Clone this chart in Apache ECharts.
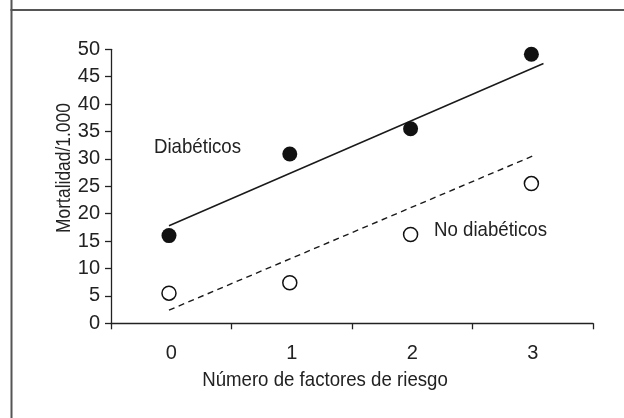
<!DOCTYPE html>
<html>
<head>
<meta charset="utf-8">
<script src="https://cdn.jsdelivr.net/npm/echarts@6/dist/echarts.min.js"></script>
<style>
html,body{margin:0;padding:0;background:#fff;}
#c{width:624px;height:418px;}
</style>
</head>
<body>
<div id="c"></div>
<script>
var categories = ['0', '1', '2', '3'];
var xPositions = [0, 1, 2, 3];
var diabeticos = [16.0, 30.9, 35.5, 49.1];
var noDiabeticos = [5.5, 7.4, 16.2, 25.5];
var diabTrendX = [0, 3.10];
var diabTrendY = [17.8, 47.4];
var noDiabTrendX = [0, 3.04];
var noDiabTrendY = [2.4, 30.8];
var yTicks = [0, 5, 10, 15, 20, 25, 30, 35, 40, 45, 50];

var FONT = '"Liberation Sans", Arial, sans-serif';
var TXT = '#222';

function pairs(xs, ys) { return xs.map(function (x, i) { return [x, ys[i]]; }); }

var chart = echarts.init(document.getElementById('c'), null, { renderer: 'canvas' });
chart.setOption({
  backgroundColor: '#fff',
  animation: false,
  grid: { left: 111, right: 31, top: 49.3, bottom: 94.7, containLabel: false },
  xAxis: [
    {
      type: 'category',
      data: categories,
      boundaryGap: true,
      axisLine: { show: true, onZero: false, lineStyle: { color: TXT, width: 1.3 } },
      axisTick: { show: true, length: 6, inside: false, lineStyle: { color: TXT, width: 1.3 } },
      axisLabel: { color: TXT, fontFamily: FONT, fontSize: 20, margin: 20 },
      splitLine: { show: false }
    },
    {
      type: 'value',
      min: -0.48,
      max: 3.51,
      show: false,
      position: 'bottom'
    }
  ],
  yAxis: {
    type: 'value',
    min: 0,
    max: 50,
    interval: 5,
    axisLine: { show: true, onZero: false, lineStyle: { color: TXT, width: 1.3 } },
    axisTick: { show: true, length: 6, lineStyle: { color: TXT, width: 1.3 } },
    axisLabel: {
      color: TXT, fontFamily: FONT, fontSize: 20, margin: 11,
      formatter: function (v) { return yTicks.indexOf(v) >= 0 ? String(v) : ''; }
    },
    splitLine: { show: false }
  },
  graphic: [
    { type: 'line', shape: { x1: 11.5, y1: 0, x2: 11.5, y2: 418 }, style: { stroke: '#555', lineWidth: 2 }, silent: true, z: 100 },
    { type: 'line', shape: { x1: 10.5, y1: 10, x2: 624, y2: 10 }, style: { stroke: '#555', lineWidth: 2 }, silent: true, z: 100 },
    { type: 'text', x: 64, y: 168, rotation: Math.PI / 2, scaleX: 0.83,
      style: { text: 'Mortalidad/1.000', fill: TXT, font: '21px ' + FONT, textAlign: 'center', textVerticalAlign: 'middle' } },
    { type: 'text', x: 325, y: 380, scaleX: 0.888,
      style: { text: 'Número de factores de riesgo', fill: TXT, font: '21px ' + FONT, textAlign: 'center', textVerticalAlign: 'middle' } },
    { type: 'text', x: 154, y: 147, scaleX: 0.888,
      style: { text: 'Diabéticos', fill: TXT, font: '21px ' + FONT, textAlign: 'left', textVerticalAlign: 'middle' } },
    { type: 'text', x: 434, y: 230, scaleX: 0.888,
      style: { text: 'No diabéticos', fill: TXT, font: '21px ' + FONT, textAlign: 'left', textVerticalAlign: 'middle' } }
  ],
  series: [
    {
      name: 'Tendencia diabéticos', type: 'line', xAxisIndex: 1,
      data: pairs(diabTrendX, diabTrendY), symbol: 'none',
      lineStyle: { color: '#1a1a1a', width: 1.5, type: 'solid' }, z: 2
    },
    {
      name: 'Tendencia no diabéticos', type: 'line', xAxisIndex: 1,
      data: pairs(noDiabTrendX, noDiabTrendY), symbol: 'none',
      lineStyle: { color: '#1a1a1a', width: 1.4, type: [6, 4.5] }, z: 2
    },
    {
      name: 'Diabéticos', type: 'scatter', xAxisIndex: 1,
      data: pairs(xPositions, diabeticos), symbol: 'circle', symbolSize: 15,
      itemStyle: { color: '#111', borderColor: '#111', borderWidth: 0, opacity: 1 }, z: 3
    },
    {
      name: 'No diabéticos', type: 'scatter', xAxisIndex: 1,
      data: pairs(xPositions, noDiabeticos), symbol: 'circle', symbolSize: 14,
      itemStyle: { color: '#fff', borderColor: '#111', borderWidth: 1.5, opacity: 1 }, z: 3
    }
  ]
});
</script>
</body>
</html>
